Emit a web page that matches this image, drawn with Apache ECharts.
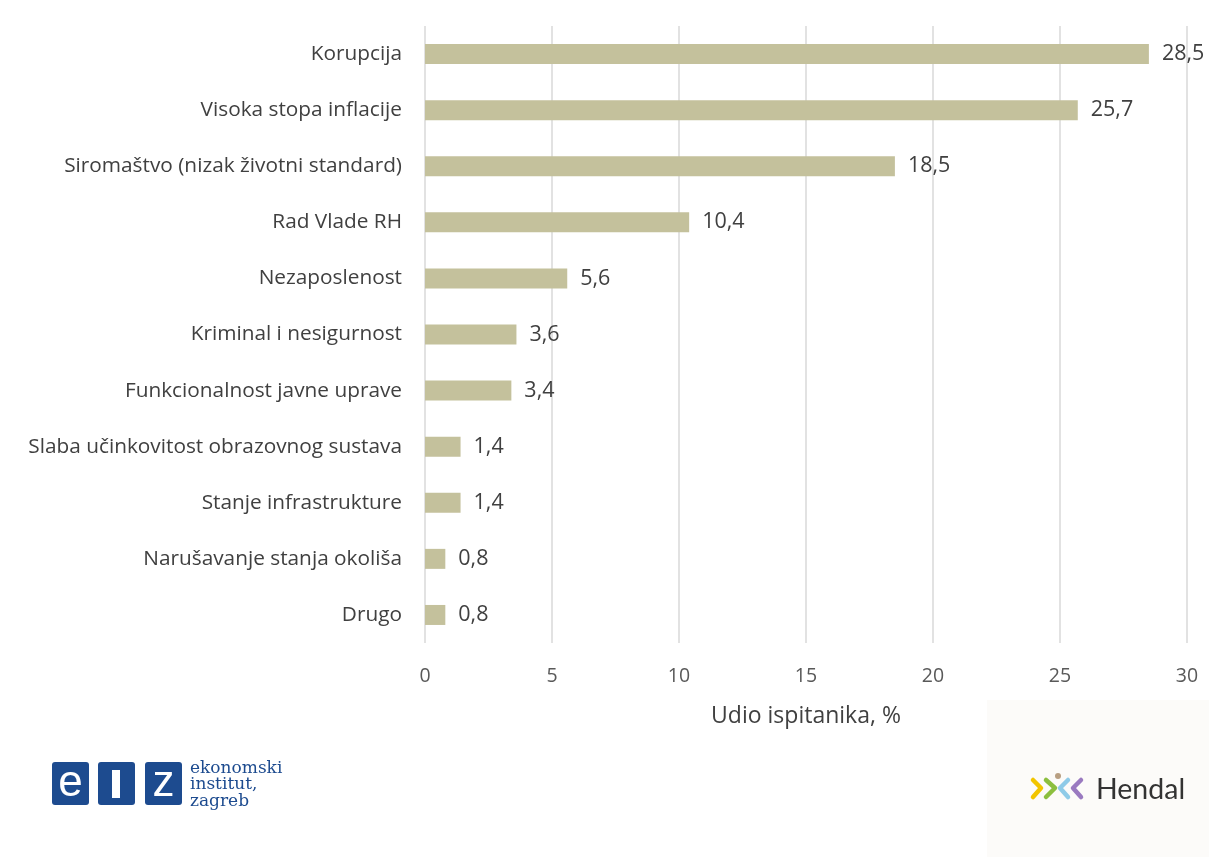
<!DOCTYPE html>
<html><head><meta charset="utf-8">
<script src="https://cdn.jsdelivr.net/npm/echarts@6/dist/echarts.min.js"></script>
<style>html,body{margin:0;padding:0;background:#fff}#c{width:1209px;height:857px}</style>
</head><body><div id="c"></div>
<script>
const categories = ["Korupcija","Visoka stopa inflacije","Siromaštvo (nizak životni standard)","Rad Vlade RH","Nezaposlenost","Kriminal i nesigurnost","Funkcionalnost javne uprave","Slaba učinkovitost obrazovnog sustava","Stanje infrastrukture","Narušavanje stanja okoliša","Drugo"];
const values = [28.5,25.7,18.5,10.4,5.6,3.6,3.4,1.4,1.4,0.8,0.8];
const xTicks = [0,5,10,15,20,25,30];
const xAxisName = "Udio ispitanika, %";

const chart = echarts.init(document.getElementById('c'));
const font = "'Open Sans', 'Liberation Sans', sans-serif";
const blue = '#1d4b8f';
chart.setOption({
  animation:false,
  backgroundColor:'#fff',
  grid:{left:425,right:22,top:26,bottom:214},
  xAxis:{type:'value',min:xTicks[0],max:xTicks[xTicks.length-1],interval:5,
    axisLine:{show:false},axisTick:{show:false},
    splitLine:{lineStyle:{color:'#d9d9d9',width:1.5}},
    axisLabel:{color:'#595959',fontSize:19.5,fontFamily:font,margin:23},
    name:xAxisName,nameLocation:'middle',nameGap:62,
    nameTextStyle:{color:'#404040',fontSize:23,fontFamily:font}},
  yAxis:{type:'category',data:categories,inverse:true,
    axisLine:{show:false},axisTick:{show:false},
    axisLabel:{color:'#404040',fontSize:20.8,fontFamily:font,margin:23}},
  series:[{type:'bar',data:values,barWidth:20,
    itemStyle:{color:'#c4c19c'},
    label:{show:true,position:'right',distance:13,color:'#404040',fontSize:21.5,fontFamily:font,
      formatter:p=>String(p.value).replace('.',',')}}],
  graphic:[
    {type:'rect',shape:{x:987,y:700,width:222,height:157},style:{fill:'#fcfbf9'},z:-1},
    // EIZ logo
    {type:'rect',shape:{x:52,y:762,width:37,height:43,r:3},style:{fill:blue}},
    {type:'rect',shape:{x:98,y:762,width:37,height:43,r:3},style:{fill:blue}},
    {type:'rect',shape:{x:145,y:762,width:37,height:43,r:3},style:{fill:blue}},
    {type:'text',x:70.5,y:784,style:{text:'e',fill:'#fff',font:"44px 'Liberation Sans', sans-serif",textAlign:'center',textVerticalAlign:'middle'}},
    {type:'rect',shape:{x:112,y:770,width:8,height:28},style:{fill:'#fff'}},
    {type:'text',x:163.5,y:784,style:{text:'z',fill:'#fff',font:"44px 'Liberation Sans', sans-serif",textAlign:'center',textVerticalAlign:'middle'}},
    {type:'text',x:190,y:760,style:{text:'ekonomski\ninstitut,\nzagreb',fill:blue,font:"17px 'DejaVu Serif', serif",lineHeight:16.5}},
    // Hendal logo
    {type:'polyline',shape:{points:[[1033,780],[1041,788],[1033,797]]},style:{stroke:'#f2c500',lineWidth:4.5,fill:null,lineCap:'round',lineJoin:'round'}},
    {type:'polyline',shape:{points:[[1046,780],[1055,788],[1046,797]]},style:{stroke:'#8cbf3f',lineWidth:4.5,fill:null,lineCap:'round',lineJoin:'round'}},
    {type:'circle',shape:{cx:1058,cy:776,r:3},style:{fill:'#b89f82'}},
    {type:'polyline',shape:{points:[[1068,780],[1060,788],[1068,797]]},style:{stroke:'#8fcbe8',lineWidth:4.5,fill:null,lineCap:'round',lineJoin:'round'}},
    {type:'polyline',shape:{points:[[1081,780],[1073,788],[1081,797]]},style:{stroke:'#9a7ac0',lineWidth:4.5,fill:null,lineCap:'round',lineJoin:'round'}},
    {type:'text',x:1096,y:790,style:{text:'Hendal',fill:'#333',font:"28.5px 'Lato', 'Open Sans', sans-serif",textVerticalAlign:'middle'}}
  ]
});
</script></body></html>
